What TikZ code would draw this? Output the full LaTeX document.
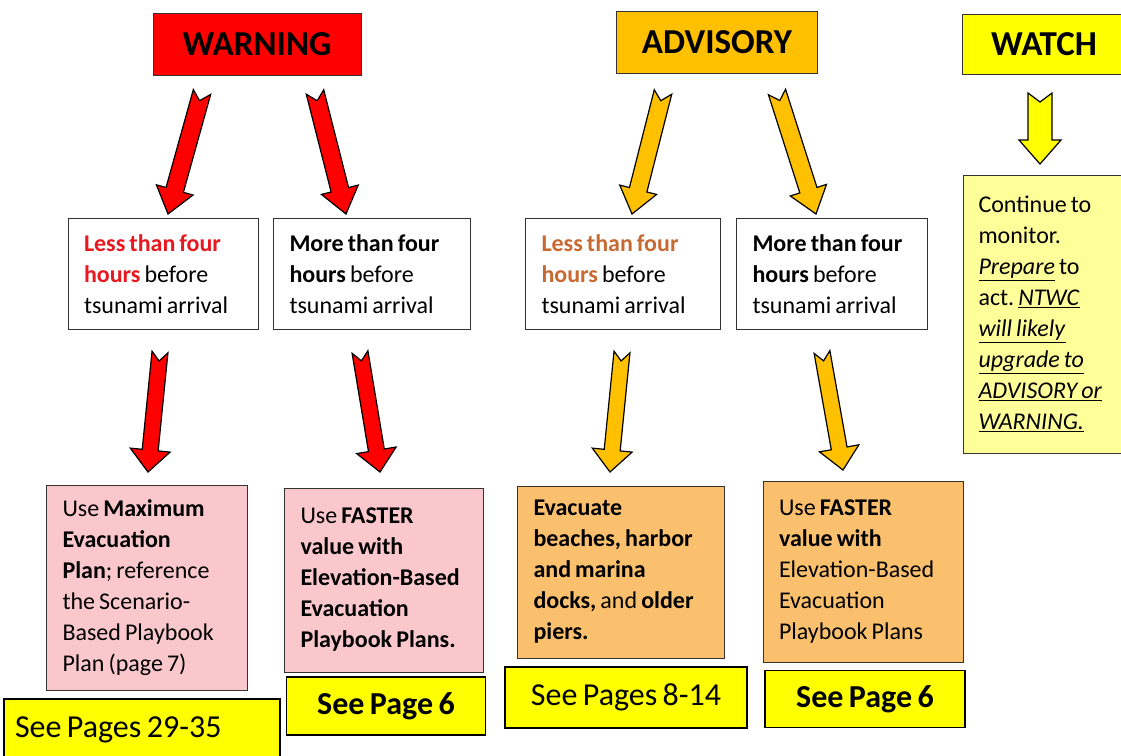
\documentclass[tikz,border=0pt]{standalone}
\usepackage{fontspec}
\setmainfont{Carlito}[WordSpace=0.75]
\usetikzlibrary{calc, positioning}

\definecolor{warnred}{RGB}{255,0,0}
\definecolor{advorange}{RGB}{255,192,0}
\definecolor{seeyellow}{RGB}{255,255,0}
\definecolor{watchpale}{RGB}{255,255,153}
\definecolor{pinkfill}{RGB}{250,200,204}
\definecolor{orangefill}{RGB}{250,192,110}
\definecolor{lessred}{RGB}{232,24,32}
\definecolor{lessbrown}{RGB}{200,105,50}

\newcommand{\headfont}{\fontsize{35}{40}\selectfont\bfseries}
\newcommand{\boxfont}{\fontsize{24}{31}\selectfont}
\newcommand{\seefont}{\fontsize{32}{36}\selectfont}

% block arrow sizes
\newcommand{\shaftw}{9pt}
\newcommand{\headw}{19pt}
\newcommand{\headl}{25pt}
\newcommand{\notchd}{9pt}
\newcommand{\blockarrow}[3]{%
  \draw[barrow,#1] ($(#2)!\shaftw!90:(#3)$) -- ($(#3)!\headl!(#2)!\shaftw!90:(#3)$)
    -- ($(#3)!\headl!(#2)!\headw!90:(#3)$) -- (#3)
    -- ($(#3)!\headl!(#2)!\headw!-90:(#3)$) -- ($(#3)!\headl!(#2)!\shaftw!-90:(#3)$)
    -- ($(#2)!\shaftw!-90:(#3)$) -- ($(#2)!\notchd!(#3)$) -- cycle;}

\tikzset{
  head/.style={draw=black!80, line width=1pt, font=\headfont, minimum height=62pt},
  txtbox/.style={draw=black!80, line width=0.8pt, align=flush left, inner xsep=16pt, font=\boxfont},
  pagebox/.style={draw=black, line width=1.2pt, fill=seeyellow, font=\seefont},
  barrow/.style={draw=black, line width=1.2pt, line join=miter}
}

\frenchspacing
\begin{document}
\begin{tikzpicture}[x=1pt,y=-1pt]
    \useasboundingbox (0,0) rectangle (1121,755);
    \clip (0,0) rectangle (1121,755);
    %
    \node[head, fill=warnred, minimum width=208pt] (warn) at (257,44) {WARNING};
    \node[head, fill=advorange, minimum width=201pt] (adv) at (717,42) {ADVISORY};
    \node[head, fill=seeyellow, minimum width=163pt, minimum height=60pt] (watch) at (1044,44) {WATCH};
    %
    \node[txtbox, text width=158pt, minimum height=111pt] (less1) at (163,274) {%
      {\color{lessred}\bfseries Less than four}\\ {\color{lessred}\bfseries hours} before\\ tsunami arrival};
    \node[txtbox, text width=165pt, minimum height=111pt] (more1) at (372,274) {%
      \textbf{More than four}\\ \textbf{hours} before\\ tsunami arrival};
    \node[txtbox, text width=163pt, minimum height=111pt] (less2) at (623,274) {%
      {\color{lessbrown}\bfseries Less than four}\\ {\color{lessbrown}\bfseries hours} before\\ tsunami arrival};
    \node[txtbox, text width=159pt, minimum height=111pt] (more2) at (832,274) {%
      \textbf{More than four}\\ \textbf{hours} before\\ tsunami arrival};
    \node[txtbox, fill=watchpale, inner xsep=15pt, text width=131pt, minimum height=278pt] (monitor) at (1044,314) {%
      Continue to\\ monitor.\\ \underline{\textit{Prepare}} to\\ act. \underline{\textit{NTWC}}\\
      \underline{\textit{will likely}}\\ \underline{\textit{upgrade to}}\\ \underline{\textit{ADVISORY or}}\\ \underline{\textit{WARNING.}}};
    %
    \node[txtbox, fill=pinkfill, text width=169pt, minimum height=205pt] (maxplan) at (147,588) {%
      Use \textbf{Maximum}\\ \textbf{Evacuation}\\ \textbf{Plan}; reference\\ the Scenario-\\ Based Playbook\\ Plan (page 7)};
    \node[txtbox, fill=pinkfill, text width=167pt, minimum height=184pt] (faster1) at (384,580) {%
      Use \textbf{FASTER}\\ \textbf{value with}\\ \textbf{Elevation-Based}\\ \textbf{Evacuation}\\ \textbf{Playbook Plans.}};
    \node[txtbox, fill=orangefill, text width=175pt, minimum height=172pt] (beaches) at (621,572) {%
      \textbf{Evacuate}\\ \textbf{beaches, harbor}\\ \textbf{and marina}\\ \textbf{docks,} and \textbf{older}\\ \textbf{piers.}};
    \node[txtbox, fill=orangefill, text width=168pt, minimum height=181pt] (faster2) at (863,572) {%
      Use \textbf{FASTER}\\ \textbf{value with}\\ Elevation-Based\\ Evacuation\\ Playbook Plans};
    %
    \node[pagebox, text width=254pt, align=flush left, inner xsep=11pt, minimum height=62pt] (see1) at (142,730) {See Pages 29-35};
    \node[pagebox, font=\seefont\bfseries, minimum width=199pt, minimum height=58pt] (see2) at (386,706) {See Page 6};
    \node[pagebox, line width=2pt, minimum width=242pt, minimum height=61pt] (see3) at (626,697) {See Pages 8-14};
    \node[pagebox, font=\seefont\bfseries, minimum width=200pt, minimum height=57pt] (see4) at (865,699) {See Page 6};
    %
    \coordinate (wa1) at (202,92);  \coordinate (wb1) at (168,214);
    \coordinate (wa2) at (315,92);  \coordinate (wb2) at (346,214);
    \coordinate (aa1) at (663,92);  \coordinate (ab1) at (632,214);
    \coordinate (aa2) at (777,92);  \coordinate (ab2) at (816,214);
    \coordinate (ta) at (1040,93);  \coordinate (tb) at (1040,164);
    \coordinate (wc1) at (160,352); \coordinate (wd1) at (148,472);
    \coordinate (wc2) at (360,352); \coordinate (wd2) at (380,472);
    \coordinate (ac1) at (622,352); \coordinate (ad1) at (610,472);
    \coordinate (ac2) at (822,352); \coordinate (ad2) at (843,470);
    %
    \blockarrow{fill=warnred}{wa1}{wb1}
    \blockarrow{fill=warnred}{wa2}{wb2}
    \blockarrow{fill=advorange}{aa1}{ab1}
    \blockarrow{fill=advorange}{aa2}{ab2}
    \renewcommand{\shaftw}{12pt}\renewcommand{\headw}{21pt}\renewcommand{\headl}{24pt}
    \blockarrow{fill=seeyellow}{ta}{tb}
    %
    \renewcommand{\shaftw}{8pt}\renewcommand{\headw}{20pt}\renewcommand{\headl}{22pt}
    \blockarrow{fill=warnred}{wc1}{wd1}
    \blockarrow{fill=warnred}{wc2}{wd2}
    \blockarrow{fill=advorange}{ac1}{ad1}
    \blockarrow{fill=advorange}{ac2}{ad2}
\end{tikzpicture}
\end{document}
